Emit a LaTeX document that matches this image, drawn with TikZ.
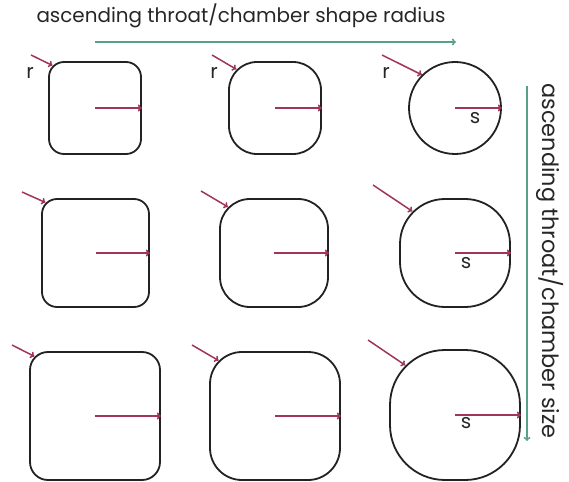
\documentclass[tikz,border=0pt]{standalone}
\usepackage{fontspec}
\setmainfont{Poppins}[Scale=1.0]
\usetikzlibrary{arrows.meta,calc}
\definecolor{mag}{RGB}{160,52,92}
\definecolor{teal2}{RGB}{88,160,140}
\definecolor{boxline}{RGB}{34,34,34}
\tikzset{
  box/.style={draw=boxline, line width=1.8bp, rectangle, inner sep=0pt, fill=white},
  radarrow/.style={draw=mag, line width=1.5bp, -{To[length=4bp,width=7bp]}},
  axisarrow/.style={draw=teal2, line width=1.5bp, -{To[length=4bp,width=7bp]}},
  lbl/.style={font=\fontsize{20}{24}\selectfont, text=black!85, inner sep=0pt},
}
\begin{document}
\begin{tikzpicture}[x=1bp,y=-1bp]
\useasboundingbox (0,0) rectangle (569,482);
% title and axes
\node[lbl] (title) at (241,16) {ascending throat/chamber shape radius};
\coordinate (h0) at (95,42);
\coordinate (h1) at (456,42);
\draw[axisarrow] (h0) -- (h1);
\coordinate (v0) at (527,86);
\coordinate (v1) at (527,441);
\draw[axisarrow] (v0) -- (v1);
\node[lbl, rotate=-90, font=\fontsize{22.5}{26}\selectfont] (side) at (550,261) {ascending throat/chamber size};

% row 1
\node[box, minimum width=92bp, minimum height=92bp, rounded corners=15bp] (a1) at (95,108) {};
\node[box, minimum width=92bp, minimum height=92bp, rounded corners=28bp] (a2) at (275,108) {};
\node[box, circle, minimum size=92bp] (a3) at (455,108) {};
% row 2
\node[box, minimum width=107bp, minimum height=108bp, rounded corners=15bp] (b1) at (95.5,253) {};
\node[box, minimum width=108bp, minimum height=108bp, rounded corners=30bp] (b2) at (274,253) {};
\node[box, minimum width=110bp, minimum height=108bp, rounded corners=45bp] (b3) at (455,253) {};
% row 3
\node[box, minimum width=130bp, minimum height=128bp, rounded corners=18bp] (c1) at (95,416) {};
\node[box, minimum width=130bp, minimum height=128bp, rounded corners=32bp] (c2) at (275,416) {};
\node[box, minimum width=130bp, minimum height=130bp, rounded corners=55bp] (c3) at (455,415) {};

% s arrows (centre to east)
\foreach \n in {a1,a2,a3,b1,b2,b3,c1,c2,c3}{
  \draw[radarrow] (\n.center) -- (\n.east);
}

% r arrows
\coordinate (ra1) at (31,55);
\coordinate (ra2) at (212,55);
\coordinate (ra3) at (382,55);
\coordinate (rb1) at (22,192);
\coordinate (rb2) at (201,191);
\coordinate (rb3) at (373,185);
\coordinate (rc1) at (12,345);
\coordinate (rc2) at (192,345);
\coordinate (rc3) at (368,340);
\coordinate (ea1) at ($(a1.north west)+(4.4,4.4)$);
\coordinate (ea2) at ($(a2.north west)+(8.2,8.2)$);
\coordinate (ea3) at (a3.135);
\coordinate (eb1) at ($(b1.north west)+(4.4,4.4)$);
\coordinate (eb2) at ($(b2.north west)+(8.8,8.8)$);
\coordinate (eb3) at ($(b3.north west)+(13.2,13.2)$);
\coordinate (ec1) at ($(c1.north west)+(5.3,5.3)$);
\coordinate (ec2) at ($(c2.north west)+(9.4,9.4)$);
\coordinate (ec3) at ($(c3.north west)+(16.1,16.1)$);
\foreach \n in {a1,a2,a3,b1,b2,b3,c1,c2,c3}{
  \draw[radarrow] (r\n) -- (e\n);
}

% labels
\node[lbl] (r1) at (30,73) {r};
\node[lbl] (r2) at (214,73) {r};
\node[lbl] (r3) at (386,73) {r};
\node[lbl] (s1) at (475,118) {s};
\node[lbl] (s2) at (466,263) {s};
\node[lbl] (s3) at (466,423) {s};
\end{tikzpicture}
\end{document}
